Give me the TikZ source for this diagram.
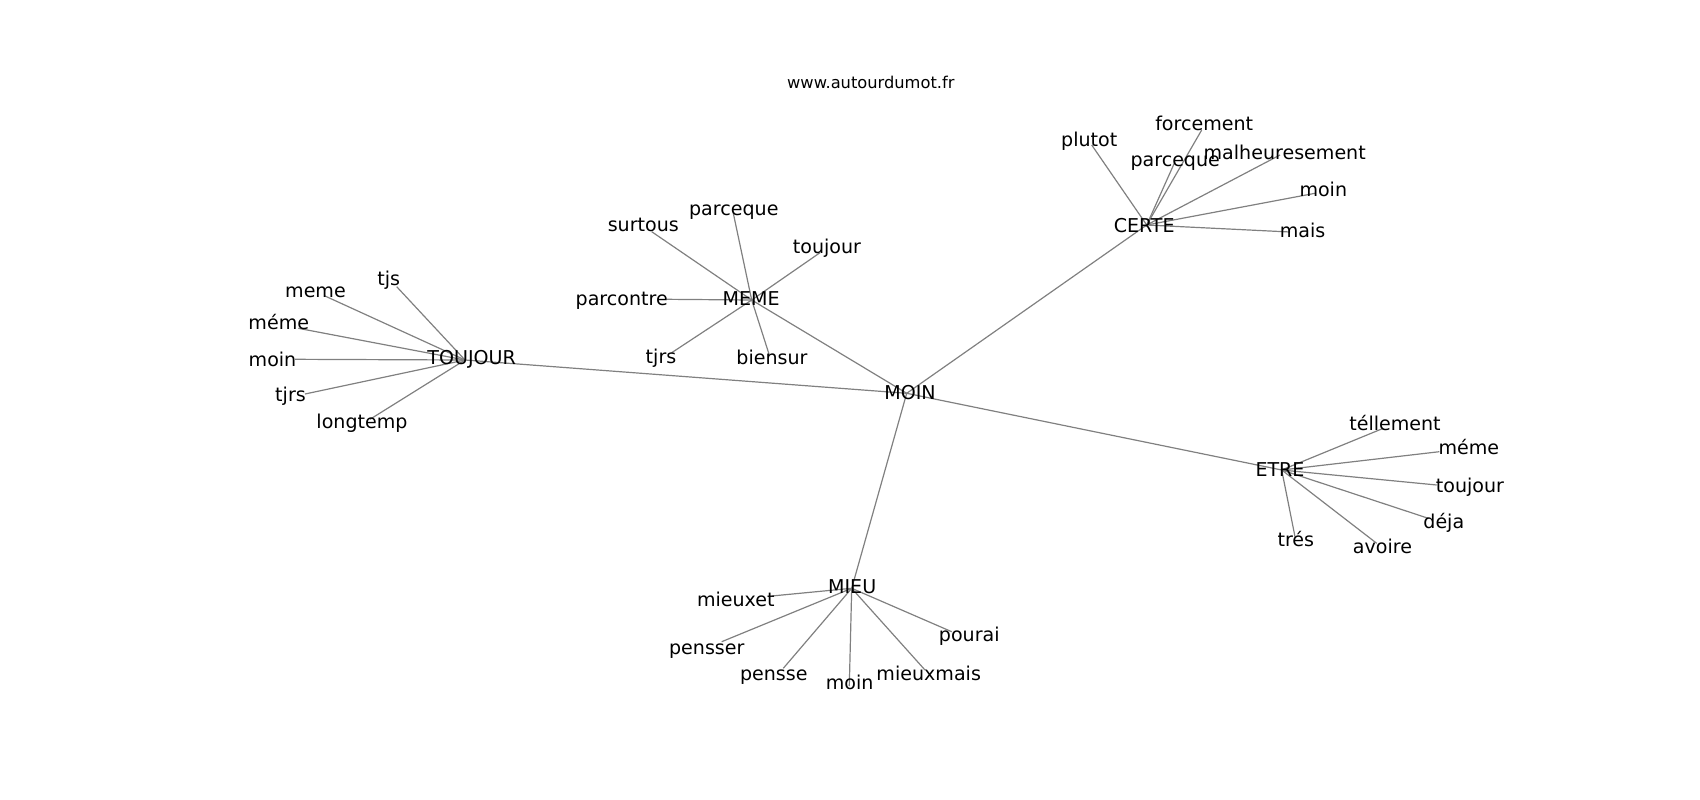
\documentclass[tikz,border=0pt]{standalone}
\usepackage{fontspec}
\setmainfont{DejaVu Sans}
\usepackage{xcolor}
\usetikzlibrary{calc}
\definecolor{edgegray}{RGB}{128,128,128}
\tikzset{>=latex}
\tikzset{
	edge/.style={draw=edgegray, line width=0.9pt},
	word/.style={anchor=base, inner sep=0pt, font=\fontsize{14.3}{16}\selectfont},
	site/.style={anchor=base, inner sep=0pt, font=\fontsize{12.2}{14}\selectfont}
}

\begin{document}
\begin{tikzpicture}[x=0.75pt, y=-0.75pt]

\useasboundingbox (0,0) rectangle (1700,800);

% Vertices (ends of the edges)
\coordinate (moin) at (906.7,393.3);
\coordinate (toujour) at (465,360);
\coordinate (meme) at (751.7,300);
\coordinate (certe) at (1146.7,225);
\coordinate (etre) at (1281.7,470);
\coordinate (mieu) at (851.7,588.3);

\coordinate (tj-tjs) at (396.7,286.7);
\coordinate (tj-meme) at (325,296);
\coordinate (tj-meme2) at (298.3,328.3);
\coordinate (tj-moin) at (295,359.3);
\coordinate (tj-tjrs) at (305,394);
\coordinate (tj-long) at (370,419.3);

\coordinate (me-parceque) at (733.3,213.3);
\coordinate (me-surtous) at (651.7,231.7);
\coordinate (me-toujour) at (820,252.7);
\coordinate (me-parcontre) at (666.7,299.3);
\coordinate (me-tjrs) at (671.7,352.7);
\coordinate (me-biensur) at (769.3,355);

\coordinate (ce-plutot) at (1091.7,145);
\coordinate (ce-forcement) at (1201.7,130);
\coordinate (ce-parceque) at (1175,161.7);
\coordinate (ce-malheur) at (1280,155);
\coordinate (ce-moin) at (1315,193.3);
\coordinate (ce-mais) at (1290,232);

\coordinate (et-tellement) at (1383.3,428.3);
\coordinate (et-meme) at (1439.3,451.7);
\coordinate (et-toujour) at (1436.7,485);
\coordinate (et-deja) at (1428.3,518.3);
\coordinate (et-tres) at (1295,536.7);
\coordinate (et-avoire) at (1376.7,543.3);

\coordinate (mi-mieuxet) at (771.7,596);
\coordinate (mi-pensser) at (721.7,641.7);
\coordinate (mi-pensse) at (783.3,668.3);
\coordinate (mi-moin) at (849.3,686);
\coordinate (mi-mieuxmais) at (925,670);
\coordinate (mi-pourai) at (951.7,631.7);

% Edges
\foreach \b in {toujour,meme,certe,etre,mieu}{
	\draw[edge] (moin) -- (\b);
}
\foreach \b in {tjs,meme,meme2,moin,tjrs,long}{
	\draw[edge] (toujour) -- (tj-\b);
}
\foreach \b in {parceque,surtous,toujour,parcontre,tjrs,biensur}{
	\draw[edge] (meme) -- (me-\b);
}
\foreach \b in {plutot,forcement,parceque,malheur,moin,mais}{
	\draw[edge] (certe) -- (ce-\b);
}
\foreach \b in {tellement,meme,toujour,deja,tres,avoire}{
	\draw[edge] (etre) -- (et-\b);
}
\foreach \b in {mieuxet,pensser,pensse,moin,mieuxmais,pourai}{
	\draw[edge] (mieu) -- (mi-\b);
}

% Labels
\node[site] (t-site) at (870.8,88.3) {www.autourdumot.fr};

\node[word] (l-moin) at (910,399.3) {MOIN};
\node[word] (l-toujour) at (471.7,364) {TOUJOUR};
\node[word] (l-meme) at (751.2,305) {MEME};
\node[word] (l-certe) at (1144.2,232.7) {CERTE};
\node[word] (l-etre) at (1280,476) {ETRE};
\node[word] (l-mieu) at (852.2,593.3) {MIEU};

\node[word] (l-tj-tjs) at (388.8,285) {tjs};
\node[word] (l-tj-meme) at (315.5,297.3) {meme};
\node[word] (l-tj-meme2) at (278.8,329.3) {méme};
\node[word] (l-tj-moin) at (272.5,366) {moin};
\node[word] (l-tj-tjrs) at (290.5,401.7) {tjrs};
\node[word] (l-tj-long) at (362,428.3) {longtemp};

\node[word] (l-me-parceque) at (733.8,215) {parceque};
\node[word] (l-me-surtous) at (643.3,231.7) {surtous};
\node[word] (l-me-toujour) at (827,253.3) {toujour};
\node[word] (l-me-parcontre) at (621.7,305) {parcontre};
\node[word] (l-me-tjrs) at (661,363.3) {tjrs};
\node[word] (l-me-biensur) at (772,364) {biensur};

\node[word] (l-ce-plutot) at (1089.2,146.7) {plutot};
\node[word] (l-ce-forcement) at (1204.2,130) {forcement};
\node[word] (l-ce-parceque) at (1175.2,166) {parceque};
\node[word] (l-ce-malheur) at (1284.7,159.3) {malheuresement};
\node[word] (l-ce-moin) at (1323.3,196) {moin};
\node[word] (l-ce-mais) at (1302.5,237.3) {mais};

\node[word] (l-et-tellement) at (1395,430) {téllement};
\node[word] (l-et-meme) at (1468.8,454) {méme};
\node[word] (l-et-toujour) at (1470,492.7) {toujour};
\node[word] (l-et-deja) at (1443.8,528.3) {déja};
\node[word] (l-et-tres) at (1295.8,546.7) {trés};
\node[word] (l-et-avoire) at (1382.5,553.3) {avoire};

\node[word] (l-mi-mieuxet) at (735.8,606) {mieuxet};
\node[word] (l-mi-pensser) at (706.8,654.3) {pensser};
\node[word] (l-mi-pensse) at (773.8,680) {pensse};
\node[word] (l-mi-moin) at (849.7,689.3) {moin};
\node[word] (l-mi-mieuxmais) at (928.7,680) {mieuxmais};
\node[word] (l-mi-pourai) at (969.3,641) {pourai};

\end{tikzpicture}
\end{document}
